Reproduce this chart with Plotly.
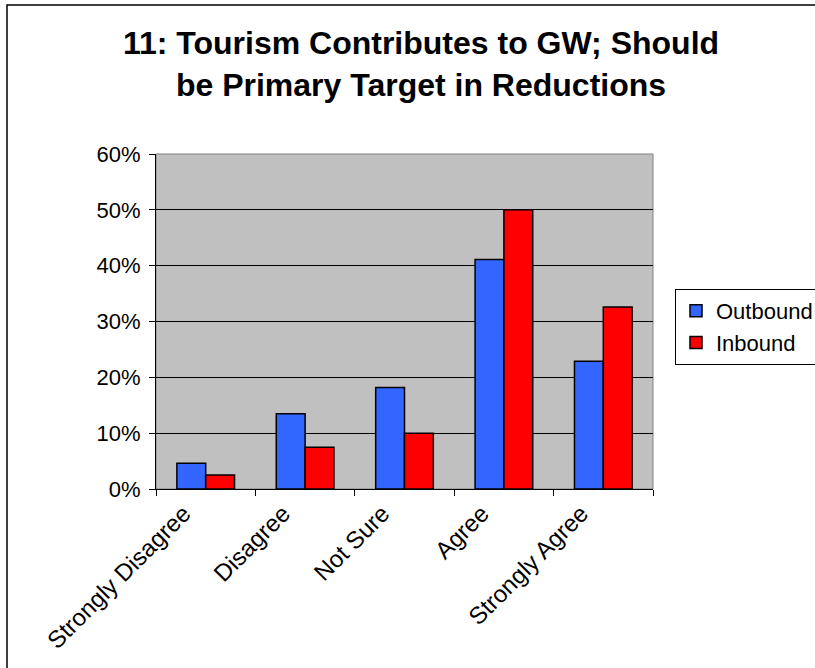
import plotly.graph_objects as go

# Survey question 11: share of respondents per answer
categories = ["Strongly Disagree", "Disagree", "Not Sure", "Agree", "Strongly Agree"]
outbound = [0.046, 0.135, 0.182, 0.411, 0.229]
inbound = [0.025, 0.075, 0.100, 0.500, 0.326]
y_ticks = [0, 0.1, 0.2, 0.3, 0.4, 0.5, 0.6]
y_tick_labels = ["0%", "10%", "20%", "30%", "40%", "50%", "60%"]

W, H = 815, 668
L, R, T, B = 156, 162, 154, 179
PW, PH = W - L - R, H - T - B


def px_x(px):
    """Pixel column -> paper x."""
    return (px - L) / PW


def px_y(py):
    """Pixel row -> paper y."""
    return (H - B - py) / PH


FONT = "Liberation Sans, Arial, sans-serif"

fig = go.Figure()
fig.add_trace(go.Bar(
    name="Outbound", x=categories, y=outbound,
    marker=dict(color="#3366FF", line=dict(color="black", width=1.5)),
))
fig.add_trace(go.Bar(
    name="Inbound", x=categories, y=inbound,
    marker=dict(color="#FF0000", line=dict(color="black", width=1.5)),
))

fig.update_layout(
    width=W, height=H,
    margin=dict(l=L, r=R, t=T, b=B, autoexpand=False),
    paper_bgcolor="white",
    plot_bgcolor="#C0C0C0",
    barmode="group",
    bargap=0.42,
    bargroupgap=0,
    font=dict(family=FONT, size=22, color="black"),
    title=dict(
        text="<b>11: Tourism Contributes to GW; Should<br>be Primary Target in Reductions</b>",
        font=dict(family=FONT, size=32, color="black"),
        x=421 / W, xanchor="center", xref="container",
        y=1 - 54 / H, yanchor="top", yref="container",
    ),
    legend=dict(
        x=px_x(675), y=px_y(289), xanchor="left", yanchor="top",
        bgcolor="white", bordercolor="black", borderwidth=1,
        font=dict(family=FONT, size=22, color="black"),
        itemclick=False,
    ),
    showlegend=True,
    shapes=[
        # grey frame of the plot area (top / right edges)
        dict(type="rect", xref="paper", yref="paper", x0=0, x1=1, y0=0, y1=1,
             line=dict(color="#808080", width=1), layer="below"),
        # outer chart border
        dict(type="rect", xref="paper", yref="paper",
             x0=px_x(7), x1=px_x(830), y0=px_y(690), y1=px_y(5),
             line=dict(color="black", width=1.5)),
    ],
)

fig.update_xaxes(
    type="category",
    tickson="boundaries",
    ticks="outside", ticklen=6, tickcolor="black", tickwidth=1,
    showline=True, linecolor="black", linewidth=1,
    showgrid=False,
    tickangle=-45,
    ticklabelshift=-22,
    tickfont=dict(family=FONT, size=24, color="black"),
)
fig.update_yaxes(
    range=[0, 0.6],
    tickvals=y_ticks, ticktext=y_tick_labels,
    ticks="outside", ticklen=6, tickcolor="black", tickwidth=1,
    showline=True, linecolor="black", linewidth=1,
    showgrid=True, gridcolor="black", gridwidth=1,
    zeroline=False,
    ticklabelstandoff=4,
    tickfont=dict(family=FONT, size=22, color="black"),
)

fig.write_html("out.html")
